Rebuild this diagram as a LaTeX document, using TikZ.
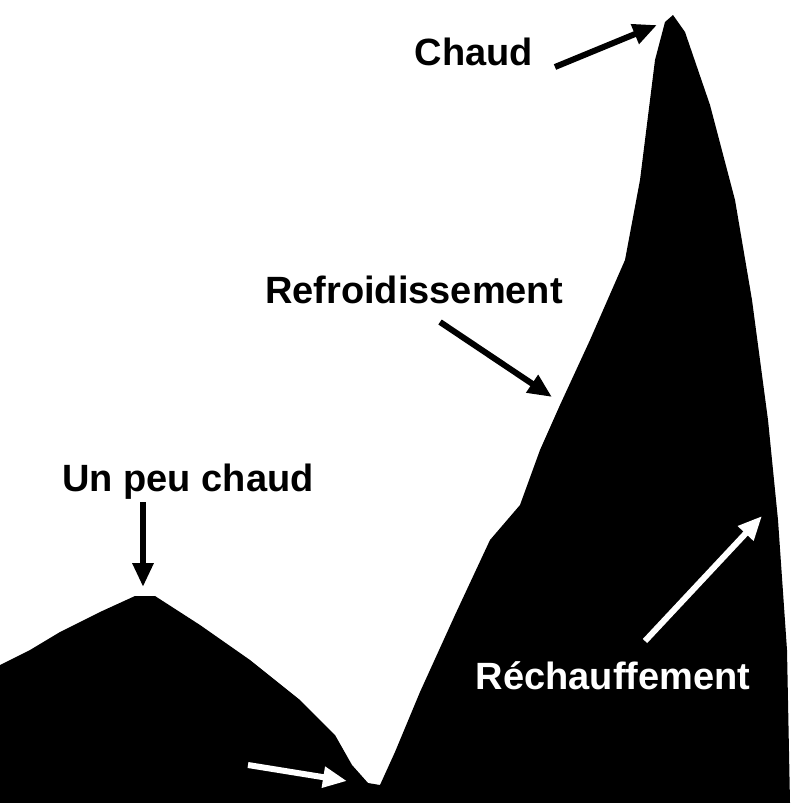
\documentclass[tikz,border=0pt]{standalone}
\usepackage{fontspec}
\setmainfont{Liberation Sans}
\usetikzlibrary{arrows.meta}
\begin{document}
\begin{tikzpicture}[x=1pt,y=-1pt,
  lbl/.style={font=\bfseries\fontsize{38}{40}\selectfont,inner sep=0pt},
  arr/.style={line width=6pt,-{Triangle[length=24pt,width=20pt]}}]
\useasboundingbox (0,0) rectangle (803,803);
\fill[black] (0,803) -- (0,665) -- (30,650) -- (60,632) -- (100,612) -- (135,596) -- (155,596)
 -- (200,625) -- (250,660) -- (300,700) -- (335,735) -- (352,765) -- (368,783) -- (380,785)
 -- (395,752) -- (420,692) -- (455,615) -- (490,540) -- (520,505) -- (540,450) -- (560,405)
 -- (590,340) -- (625,260) -- (640,180) -- (655,60) -- (665,22) -- (673,15) -- (685,32)
 -- (710,105) -- (735,200) -- (752,300) -- (768,420) -- (778,520) -- (787,650) -- (790,803) -- cycle;
\node[lbl] (chaud) at (474,52) {Chaud};
\node[lbl] (refr) at (414,290) {Refroidissement};
\node[lbl] (upc) at (188,482) {Un peu chaud};
\node[lbl] (froid) at (176,758) {Froid};
\node[lbl,text=white] (rech) at (613,676) {Réchauffement};
\coordinate (pk1) at (657,25);
\coordinate (pk2) at (552,397);
\coordinate (pk3) at (143,587);
\coordinate (pk4) at (347,781);
\coordinate (pk5) at (762,516);
\draw[arr] (555,67) -- (pk1);
\draw[arr] (440,322) -- (pk2);
\draw[arr] (143,502) -- (pk3);
\draw[arr,white] (248,765) -- (pk4);
\draw[arr,white] (645,641) -- (pk5);
\end{tikzpicture}
\end{document}
